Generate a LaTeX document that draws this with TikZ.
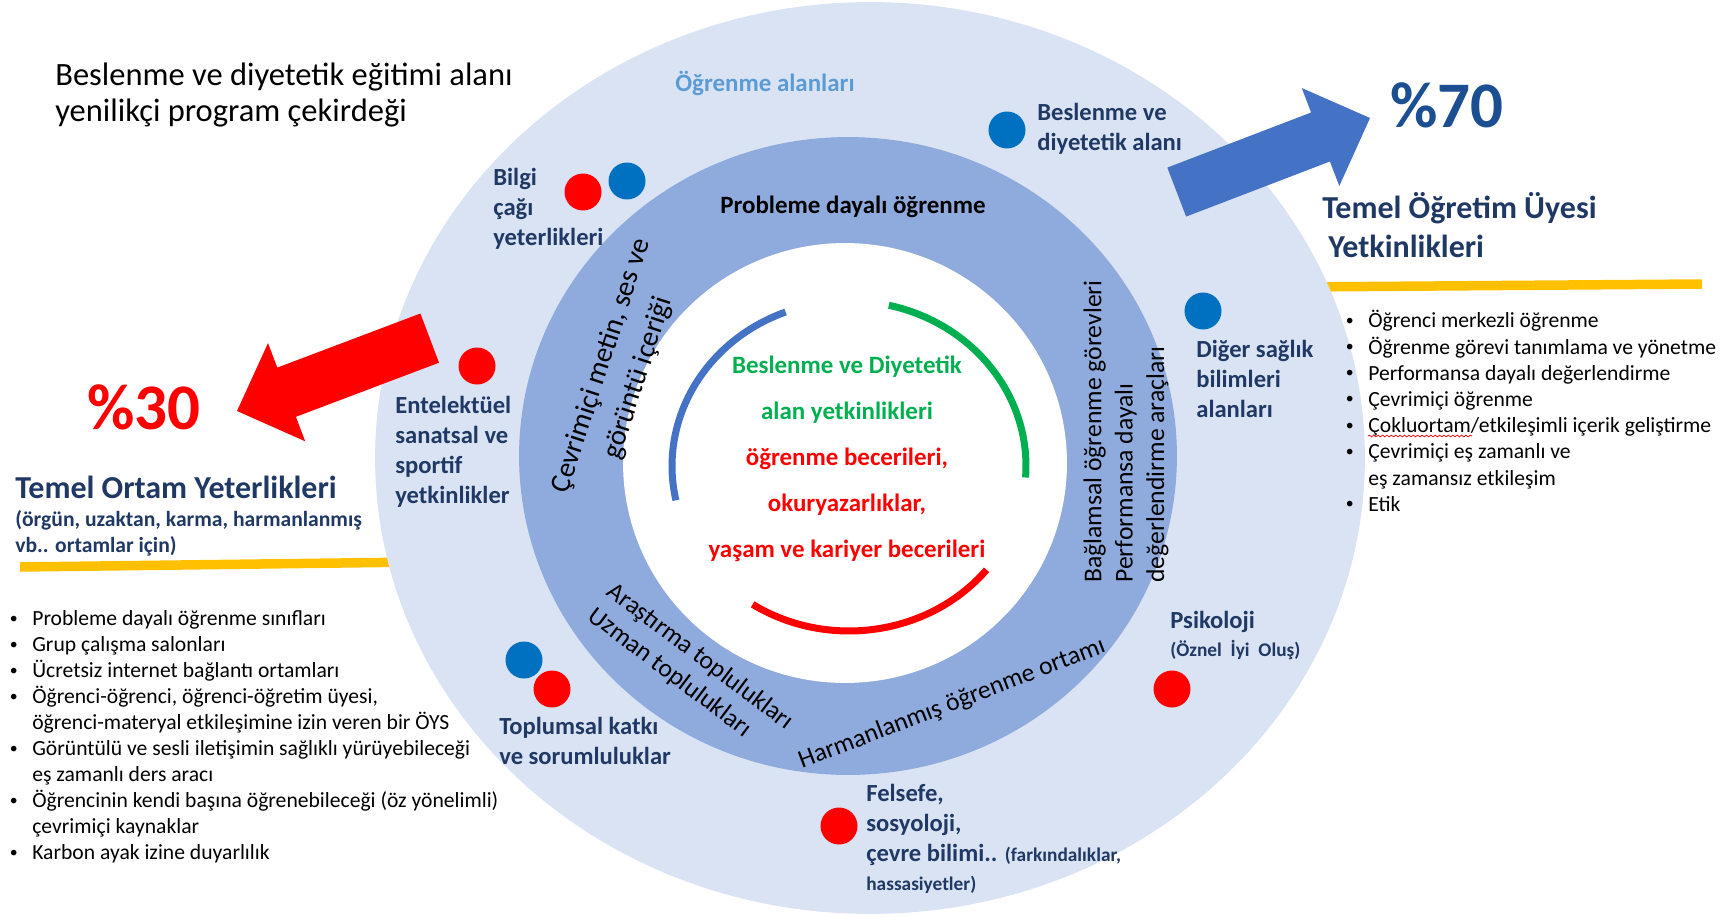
\documentclass[tikz,border=0pt]{standalone}
\usepackage{fontspec}
\setmainfont{Carlito}
\usetikzlibrary{decorations.pathmorphing}
\usepackage{xcolor}

\definecolor{ringlight}{HTML}{DAE3F3}
\definecolor{ringmid}{HTML}{8FAADC}
\definecolor{arrowblue}{HTML}{4472C4}
\definecolor{dotblue}{HTML}{0070C0}
\definecolor{navytext}{HTML}{1F3864}
\definecolor{areablue}{HTML}{5B9BD5}
\definecolor{pctblue}{HTML}{1C4F92}
\definecolor{compgreen}{HTML}{00B050}
\definecolor{baryellow}{HTML}{FFC000}

\newcommand{\bulitem}{\makebox[0.48cm][l]{\hspace{0.03cm}\raisebox{0.25ex}{\fontsize{9}{9}\selectfont\textbullet}}}
\newcommand{\bulcont}{\hspace*{0.48cm}}

\tikzset{
    lbl/.style={anchor=west, align=left, inner sep=0pt, text=navytext,
        font=\bfseries\fontsize{14}{17}\selectfont},
    ringtext/.style={inner sep=0pt, font=\fontsize{14.6}{17.6}\selectfont},
    heading/.style={anchor=west, align=left, inner sep=0pt, text=navytext,
        font=\bfseries\fontsize{18.2}{22.2}\selectfont},
    listtext/.style={anchor=west, align=left, inner sep=0pt,
        font=\fontsize{12.3}{14.9}\selectfont},
    pct/.style={inner sep=0pt, font=\bfseries\fontsize{37}{40}\selectfont},
    dot/.style={circle, minimum size=0.74cm, inner sep=0pt},
    arcline/.style={line width=0.14cm},
    bar/.style={baryellow, line width=0.19cm}
}

\begin{document}
\begin{tikzpicture}[x=0.02cm, y=-0.02cm]
    \useasboundingbox (0,0) rectangle (1730,916);

    % Yellow bars (under the rings)
    \draw[bar] (20,567) -- (420,562);
    \draw[bar] (1300,287) -- (1702,284);

    % Rings
    \fill[ringlight] (870,458) ellipse [x radius=9.9cm, y radius=9.12cm];
    \fill[ringmid] (848,456) ellipse [x radius=6.58cm, y radius=6.38cm];
    \fill[white] (845,463) ellipse [x radius=4.44cm, y radius=4.4cm];

    % Inner arcs
    \coordinate (hub) at (849,466);
    \draw[arcline, arrowblue] (hub) ++(111:3.54cm and 3.3cm)
        arc[start angle=111, end angle=192, x radius=3.54cm, y radius=3.3cm];
    \draw[arcline, compgreen] (hub) ++(77:3.54cm and 3.3cm)
        arc[start angle=77, end angle=-4, x radius=3.54cm, y radius=3.3cm];
    \draw[arcline, red] (hub) ++(-39:3.54cm and 3.3cm)
        arc[start angle=-39, end angle=-123, x radius=3.54cm, y radius=3.3cm];

    % Block arrows
    \fill[red] (420.4,313.5) -- (277.3,367.6) -- (268,343.1) -- (237,411)
        -- (305.2,441.3) -- (295.9,416.8) -- (439,362.7) -- cycle;
    \fill[arrowblue] (1167.3,167.6) -- (1311.1,112.5) -- (1301.7,88) -- (1370,118)
        -- (1339.3,186) -- (1329.9,161.5) -- (1186.1,216.6) -- cycle;

    % Title
    \node[anchor=west, align=left, inner sep=0pt, font=\fontsize{18.5}{20.5}\selectfont]
        (title) at (55,95) {Beslenme ve diyetetik eğitimi alanı\\yenilikçi program çekirdeği};
    \node[inner sep=0pt, text=areablue, font=\bfseries\fontsize{14.2}{17}\selectfont]
        (area) at (765,83) {Öğrenme alanları};

    % Dots
    \node[dot, fill=red] (bilgired) at (583,192) {};
    \node[dot, fill=dotblue] (bilgiblue) at (627,181) {};
    \node[dot, fill=dotblue] (beslenmedot) at (1007,130) {};
    \node[dot, fill=dotblue] (digerdot) at (1203,311) {};
    \node[dot, fill=red] (enteldot) at (477,366) {};
    \node[dot, fill=dotblue] (toplumblue) at (524,660) {};
    \node[dot, fill=red] (toplumred) at (552,689) {};
    \node[dot, fill=red] (psikodot) at (1172,689) {};
    \node[dot, fill=red] (felsefedot) at (839,826) {};

    % Learning areas
    \node[lbl] (bilgi) at (493,209) {Bilgi\\çağı\\yeterlikleri};
    \node[lbl] (beslenme) at (1037,129) {Beslenme ve\\diyetetik alanı};
    \node[lbl] (diger) at (1196,379) {Diğer sağlık\\bilimleri\\alanları};
    \node[lbl] (entel) at (395,452) {Entelektüel\\sanatsal ve\\sportif\\yetkinlikler};
    \node[lbl] (toplum) at (499,741) {Toplumsal katkı\\ve sorumluluklar};
    \node[lbl] (psiko) at (1170,622) {Psikoloji};
    \node[lbl, font=\bfseries\fontsize{11}{13}\selectfont] (oznel) at (1170,650) {(Öznel\ \ İyi\ \ Oluş)};
    \node[lbl] (felsefe) at (866,839) {Felsefe,\\sosyoloji,\\çevre bilimi.. {\fontsize{11}{13}\selectfont (farkındalıklar,}\\{\fontsize{11}{13}\selectfont hassasiyetler)}};

    % Ring texts
    \node[ringtext, font=\bfseries\fontsize{14.2}{17}\selectfont] (pdo) at (853,207) {Probleme dayalı öğrenme};
    \node[ringtext, rotate=72, align=center, font=\fontsize{16.3}{22}\selectfont]
        (cevrim) at (620,372) {Çevrimiçi metin, ses ve\\görüntü içeriği};
    \node[ringtext, rotate=90, align=left, anchor=west, font=\fontsize{14.6}{17.9}\selectfont]
        (baglam) at (1126,583) {Bağlamsal öğrenme görevleri\\Performansa dayalı\\değerlendirme araçları};
    \node[ringtext, rotate=-37, align=left, anchor=west] (arastir) at (600,601) {Araştırma toplulukları\\Uzman toplulukları};
    \node[ringtext, rotate=21] (harman) at (952,704) {Harmanlanmış öğrenme ortamı};

    % Core competences
    \node[inner sep=0pt, align=center, text=red, font=\bfseries\fontsize{14.2}{26.2}\selectfont]
        (core) at (847,459) {\textcolor{compgreen}{Beslenme ve Diyetetik}\\\textcolor{compgreen}{alan yetkinlikleri}\\öğrenme becerileri,\\okuryazarlıklar,\\yaşam ve kariyer becerileri};

    % Percentages
    \node[pct, text=pctblue] (p70) at (1447,105) {\%70};
    \node[pct, text=red] (p30) at (144,407) {\%30};

    % Faculty side
    \node[heading] (ogretim) at (1322,225) {Temel Öğretim Üyesi\\\hspace*{0.12cm}Yetkinlikleri};
    \node[listtext] (faculty) at (1344,411) {\bulitem Öğrenci merkezli öğrenme\\
        \bulitem Öğrenme görevi tanımlama ve yönetme\\
        \bulitem Performansa dayalı değerlendirme\\
        \bulitem Çevrimiçi öğrenme\\
        \bulitem Çokluortam/etkileşimli içerik geliştirme\\
        \bulitem Çevrimiçi eş zamanlı ve\\
        \bulcont eş zamansız etkileşim\\
        \bulitem Etik};
    \draw[red, line width=0.4pt, decorate, decoration={snake, amplitude=0.5pt, segment length=2.5pt}]
        (1368,436) -- (1472,436);

    % Environment side
    \node[heading] (ortam) at (15,487) {Temel Ortam Yeterlikleri};
    \node[anchor=west, align=left, inner sep=0pt, text=navytext, font=\bfseries\fontsize{12.3}{14.8}\selectfont]
        (ortamsub) at (15,533) {(örgün, uzaktan, karma, harmanlanmış\\vb.. ortamlar için)};
    \node[listtext, font=\fontsize{12.3}{14.8}\selectfont] (env) at (8,737) {\bulitem Probleme dayalı öğrenme sınıfları\\
        \bulitem Grup çalışma salonları\\
        \bulitem Ücretsiz internet bağlantı ortamları\\
        \bulitem Öğrenci-öğrenci, öğrenci-öğretim üyesi,\\
        \bulcont öğrenci-materyal etkileşimine izin veren bir ÖYS\\
        \bulitem Görüntülü ve sesli iletişimin sağlıklı yürüyebileceği\\
        \bulcont eş zamanlı ders aracı\\
        \bulitem Öğrencinin kendi başına öğrenebileceği (öz yönelimli)\\
        \bulcont çevrimiçi kaynaklar\\
        \bulitem Karbon ayak izine duyarlılık};
\end{tikzpicture}
\end{document}
